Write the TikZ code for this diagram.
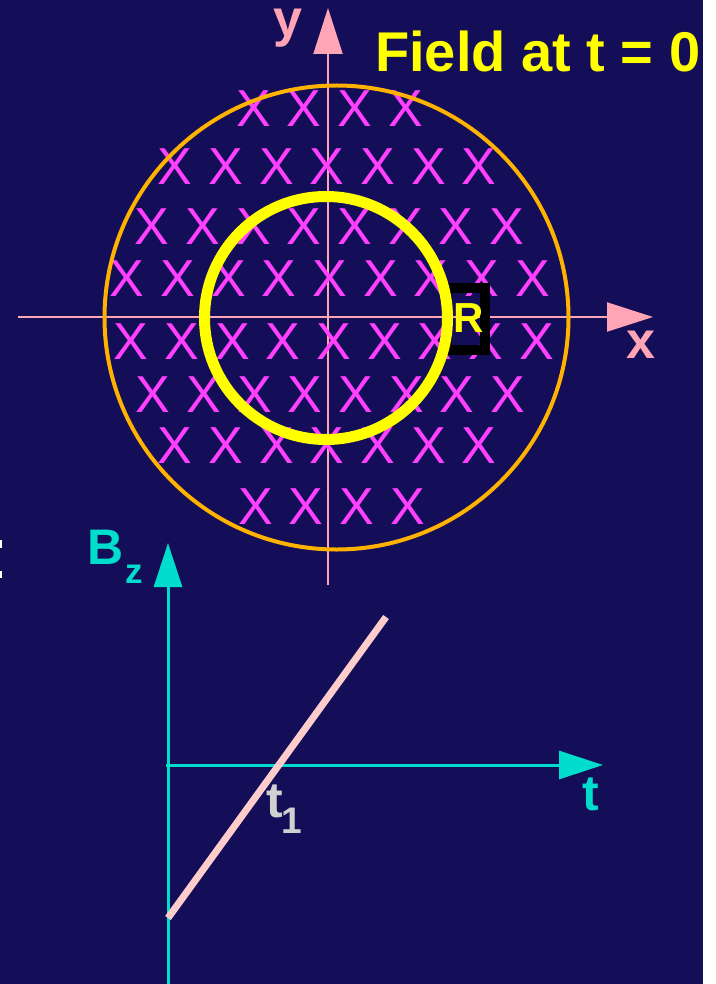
\documentclass[tikz,border=0pt]{standalone}
\usepackage{fontspec}
\setmainfont{Liberation Sans}
\usetikzlibrary{arrows.meta}
\definecolor{bg}{RGB}{20,14,88}
\definecolor{axpink}{RGB}{255,165,182}
\definecolor{xmag}{RGB}{255,64,255}
\definecolor{ringor}{RGB}{255,178,0}
\definecolor{loopyel}{RGB}{255,255,0}
\definecolor{axcyan}{RGB}{0,221,204}
\definecolor{linepink}{RGB}{255,204,204}
\definecolor{labgrey}{RGB}{208,208,208}
\begin{document}
\begin{tikzpicture}[x=1pt,y=-1pt,
  pinkaxis/.style={draw=axpink,line width=2pt,-{Triangle[length=46pt,width=29pt]},color=axpink},
  cyanaxis/.style={draw=axcyan,line width=3pt,-{Triangle[length=44pt,width=28pt]},color=axcyan},
  xmark/.style={text=xmag,inner sep=0pt,anchor=center,font=\fontsize{52}{56}\selectfont},
  lab/.style={inner sep=0pt,anchor=base,font=\fontsize{50}{54}\selectfont\bfseries},
  sublab/.style={inner sep=0pt,anchor=base,font=\fontsize{37}{40}\selectfont\bfseries}]
\useasboundingbox (0,0) rectangle (715,984);
\fill[bg] (0,0) rectangle (703,984);
\fill[white] (703,0) rectangle (715,984);
\fill[white] (0,540) rectangle (1.6,548);
\fill[white] (0,571) rectangle (1.7,578);
% pink axes
\coordinate (xa0) at (18,317);
\coordinate (xa1) at (653,317);
\coordinate (ya0) at (328,585);
\coordinate (ya1) at (328,8);
\draw[pinkaxis] (xa0) -- (xa1);
\draw[pinkaxis] (ya0) -- (ya1);
% field crosses
\foreach \r/\yy/\sx/\n in {1/109/253.5/4,2/167/175/7,3/227/152/8,4/279/127/9,5/342/131/9,6/395/153/8,7/446/175/7,8/507/255.5/4}{
  \foreach \c in {1,...,\n}{
    \node[xmark] (x\r-\c) at ({\sx+(\c-1)*50.7},\yy) {X};
  }
}
% orange region boundary
\coordinate (oc) at (336.5,317.5);
\draw[ringor,line width=4pt] (oc) circle[radius=232];
% R frame
\coordinate (rb0) at (447,288);
\coordinate (rb1) at (485,350);
\draw[black,line width=10pt] (rb0) rectangle (rb1);
% yellow loop
\coordinate (yc) at (326,318);
\draw[loopyel,line width=11pt] (yc) circle[radius=121.5];
\node[lab,text=loopyel,font=\fontsize{42}{46}\selectfont\bfseries] (R) at (469,332) {R};
% labels top
\node[lab,text=axpink,font=\fontsize{52}{56}\selectfont\bfseries] (ylab) at (288,37) {y};
\node[lab,text=axpink,font=\fontsize{52}{56}\selectfont\bfseries] (xlab) at (641,358) {x};
\node[inner sep=0pt,anchor=base west,text=loopyel,font=\fontsize{56}{60}\selectfont\bfseries] (title) at (375,72) {Field at t = 0};
% lower graph
\coordinate (bz0) at (168,984);
\coordinate (bz1) at (168,543);
\coordinate (ta0) at (166,765);
\coordinate (ta1) at (603,765);
\draw[cyanaxis] (bz0) -- (bz1);
\draw[cyanaxis] (ta0) -- (ta1);
\coordinate (l0) at (168,918);
\coordinate (l1) at (386,617);
\draw[linepink,line width=7pt] (l0) -- (l1);
\node[lab,text=axcyan] (B) at (106,564) {B};
\node[sublab,text=axcyan,font=\fontsize{35}{38}\selectfont\bfseries] (Bz) at (134.5,583) {z};
\node[lab,text=axcyan] (tlab) at (591,810) {t};
\node[lab,text=labgrey] (t1) at (275,817) {t};
\node[sublab,text=labgrey] (t1s) at (292,833) {1};
\end{tikzpicture}
\end{document}
